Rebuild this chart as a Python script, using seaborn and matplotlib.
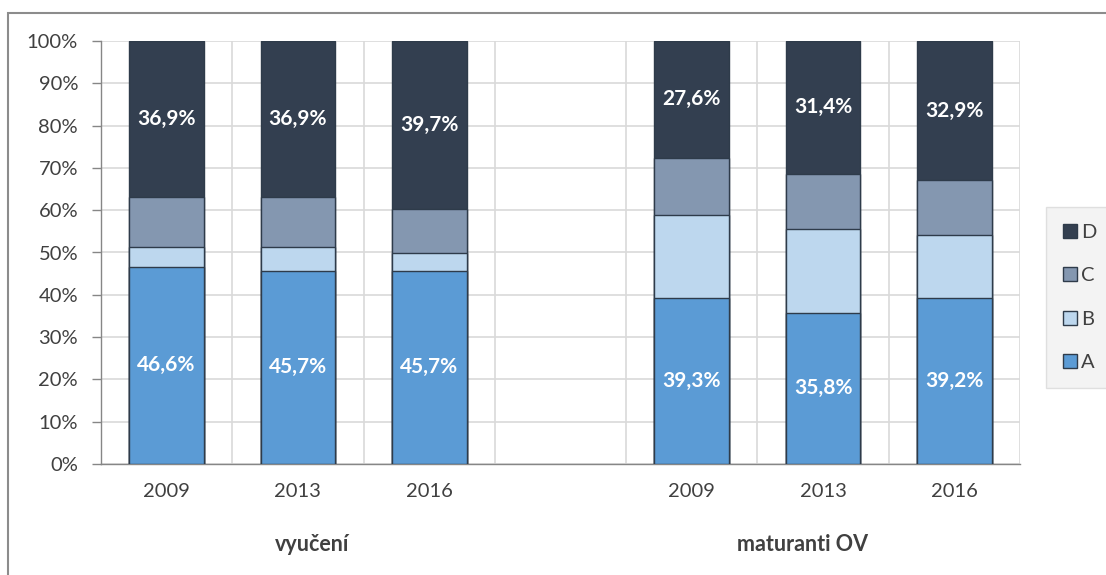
import numpy as np
import pandas as pd
import matplotlib
matplotlib.use("Agg")
import matplotlib.pyplot as plt
import matplotlib.patches as mpatches
import seaborn as sns

# categories (slot "gap" is the empty space between the two groups)
slots = ["v2009", "v2013", "v2016", "gap", "m2009", "m2013", "m2016"]
years = ["2009", "2013", "2016", "", "2009", "2013", "2016"]
groups = ["vyučení", "maturanti OV"]
series = ["A", "B", "C", "D"]

# shares in % per bar (gap excluded)
bar_slots = ["v2009", "v2013", "v2016", "m2009", "m2013", "m2016"]
a_vals = [46.6, 45.7, 45.7, 39.3, 35.8, 39.2]
b_vals = [4.7, 5.6, 4.2, 19.6, 19.8, 15.0]
c_vals = [11.8, 11.8, 10.4, 13.5, 13.0, 12.9]
d_vals = [36.9, 36.9, 39.7, 27.6, 31.4, 32.9]

colors = {"A": "#5B9BD5", "B": "#BDD7EE", "C": "#8497B0", "D": "#333F50"}
edge = "#2E3B4A"
text_col = "#404040"

sns.set_style("white")
plt.rcParams["font.family"] = ["Lato", "DejaVu Sans"]

df = pd.DataFrame({"slot": bar_slots, "A": a_vals, "B": b_vals, "C": c_vals, "D": d_vals})
# cumulative tops, drawn from the top series down so lower ones overlay
df["top_A"] = df["A"]
df["top_B"] = df["top_A"] + df["B"]
df["top_C"] = df["top_B"] + df["C"]
df["top_D"] = df["top_C"] + df["D"]

fig = plt.figure(figsize=(11.06, 5.75), dpi=100)
ax = fig.add_axes([101 / 1106, 1 - 464 / 575, (1020 - 101) / 1106, (464 - 41) / 575])

for s in ["D", "C", "B", "A"]:
    sns.barplot(data=df, x="slot", y=f"top_{s}", order=slots, color=colors[s],
                width=0.57, edgecolor=edge, linewidth=1.0, saturation=1, ax=ax, zorder=3)

# data labels for A and D
xpos = {s: i for i, s in enumerate(slots)}
for _, row in df.iterrows():
    x = xpos[row["slot"]]
    ax.text(x, row["A"] / 2, f"{row['A']:.1f}%".replace(".", ","), ha="center", va="center",
            color="white", fontsize=15, fontweight="bold", zorder=5)
    ax.text(x, row["top_C"] + row["D"] / 2, f"{row['D']:.1f}%".replace(".", ","), ha="center",
            va="center", color="white", fontsize=15, fontweight="bold", zorder=5)

ax.set_xlim(-0.5, len(slots) - 0.5)
ax.set_ylim(0, 100)
ax.set_yticks(np.arange(0, 101, 10))
ax.set_yticklabels([f"{v}%" for v in range(0, 101, 10)], color=text_col, fontsize=14.5)
ax.set_xticks(range(len(slots)))
ax.set_xticklabels(years, color=text_col, fontsize=14.5)
ax.tick_params(axis="x", length=0, pad=14)
ax.set_xticks(np.arange(-0.5, len(slots), 1), minor=True)
ax.tick_params(axis="x", which="minor", length=6.5, color="#868686", width=1)
ax.tick_params(axis="y", length=6.5, color="#868686", width=1, pad=10, left=True)
ax.set_xlabel("")
ax.set_ylabel("")

ax.grid(axis="y", color="#D9D9D9", linewidth=1.2, zorder=0)
ax.grid(axis="x", which="minor", color="#D9D9D9", linewidth=1.2, zorder=0)
ax.set_axisbelow(True)
for sp in ["top", "right"]:
    ax.spines[sp].set_visible(False)
for sp in ["left", "bottom"]:
    ax.spines[sp].set_color("#868686")
    ax.spines[sp].set_linewidth(1.0)

# group labels
ax.text(1.11, -0.19, groups[0], transform=ax.get_xaxis_transform(), ha="center", va="center",
        fontsize=15.5, fontweight="bold", color=text_col)
ax.text(4.84, -0.19, groups[1], transform=ax.get_xaxis_transform(), ha="center", va="center",
        fontsize=15.5, fontweight="bold", color=text_col)

# legend
handles = [mpatches.Patch(facecolor=colors[s], edgecolor=edge, linewidth=1, label=s)
           for s in ["D", "C", "B", "A"]]
leg = fig.legend(handles=handles, loc="upper left", bbox_to_anchor=(1046 / 1106, 1 - 207 / 575),
                 frameon=True, fancybox=False, fontsize=14.5, handlelength=0.7, handleheight=0.7,
                 handletextpad=0.2, labelspacing=1.3, borderpad=0.85, borderaxespad=0)
leg.get_frame().set_facecolor("#F0F0F0")
leg.get_frame().set_edgecolor("#D9D9D9")
for t in leg.get_texts():
    t.set_color(text_col)

# outer chart border
fig.add_artist(mpatches.Rectangle((8 / 1106, -0.1), 1.2, 1.1 - 13 / 575, transform=fig.transFigure,
                                  fill=False, edgecolor="#8C8C8C", linewidth=1.5, clip_on=False))

fig.savefig("out.png", dpi=100)
